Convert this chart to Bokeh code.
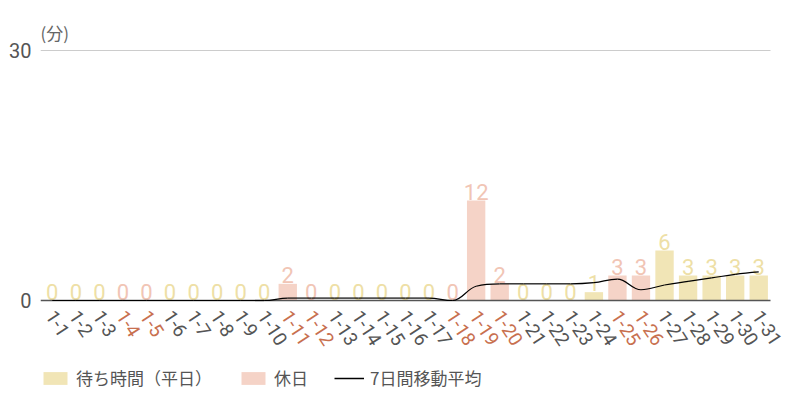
from bokeh.plotting import figure
from bokeh.models import (Range1d, FixedTicker, ColumnDataSource, Legend, LegendItem)
from bokeh.core.properties import value
from bokeh.embed import file_html
from bokeh.resources import INLINE

# ---- data ----
dates = ["1-1", "1-2", "1-3", "1-4", "1-5", "1-6", "1-7", "1-8", "1-9", "1-10",
         "1-11", "1-12", "1-13", "1-14", "1-15", "1-16", "1-17", "1-18", "1-19", "1-20",
         "1-21", "1-22", "1-23", "1-24", "1-25", "1-26", "1-27", "1-28", "1-29", "1-30", "1-31"]
wait_minutes = [0, 0, 0, 0, 0, 0, 0, 0, 0, 0,
                2, 0, 0, 0, 0, 0, 0, 0, 12, 2,
                0, 0, 0, 1, 3, 3, 6, 3, 3, 3, 3]
holidays = ["1-4", "1-5", "1-11", "1-12", "1-18", "1-19", "1-20", "1-25", "1-26"]
moving_avg = [0, 0, 0, 0, 0, 0, 0, 0, 0, 0,
              0.29, 0.29, 0.29, 0.29, 0.29, 0.29, 0.29, 0, 1.71, 2.0,
              2.0, 2.0, 2.0, 2.14, 2.57, 1.29, 1.86, 2.29, 2.71, 3.14, 3.43]
y_ticks = [0, 30]
y_max = 30
unit_label = "(分)"
legend_labels = ["待ち時間（平日）", "休日", "7日間移動平均"]

# ---- style ----
WEEKDAY_BAR = "#f1e5b6"
HOLIDAY_BAR = "#f5d3c7"
WEEKDAY_TXT = "#eedfa6"
HOLIDAY_TXT = "#f1c5b5"
TICK_GRAY = "#555555"
TICK_HOL = "#c8704f"
NARROW = value("Roboto")
THIN = value("Roboto")
CJK = value("Noto Sans CJK JP")

idx = list(range(len(dates)))
n = len(dates)
is_hol = [d in holidays for d in dates]

wk = ColumnDataSource(dict(x=[i for i in idx if not is_hol[i]],
                           y=[wait_minutes[i] for i in idx if not is_hol[i]],
                           t=[str(wait_minutes[i]) for i in idx if not is_hol[i]]))
hd = ColumnDataSource(dict(x=[i for i in idx if is_hol[i]],
                           y=[wait_minutes[i] for i in idx if is_hol[i]],
                           t=[str(wait_minutes[i]) for i in idx if is_hol[i]]))

PX_PER_UNIT = 250 / 30.0
PX_PER_CAT = 730 / 31.0
p = figure(width=800, height=400, output_backend="svg", toolbar_location=None,
           x_range=Range1d(-0.5, n - 0.5 + 30 / PX_PER_CAT),
           y_range=Range1d(0 - 100 / PX_PER_UNIT, 30 + 30 / PX_PER_UNIT),
           min_border_left=40, min_border_right=0, min_border_top=20, min_border_bottom=0)
p.outline_line_color = None
p.background_fill_color = "white"
p.xaxis.visible = False
p.xgrid.visible = False
p.ygrid.visible = False

ya = p.yaxis[0]
ya.ticker = FixedTicker(ticks=y_ticks)
ya.axis_line_color = None
ya.major_tick_line_color = None
ya.minor_tick_line_color = None
ya.major_tick_out = 0
ya.major_tick_in = 0
ya.major_label_standoff = 9
ya.major_label_text_font = "Roboto"
ya.major_label_text_font_size = "20px"
ya.major_label_text_color = TICK_GRAY

# grid line at top, spanning the category area only
p.segment(x0=[-0.5], y0=[y_max], x1=[n - 0.5], y1=[y_max], line_color="#cccccc", line_width=1)

# bars
r_wk = p.vbar(x="x", top="y", width=0.78, source=wk, fill_color=WEEKDAY_BAR, line_color=None)
r_hd = p.vbar(x="x", top="y", width=0.78, source=hd, fill_color=HOLIDAY_BAR, line_color=None)

# value labels
for src, col in ((wk, WEEKDAY_TXT), (hd, HOLIDAY_TXT)):
    p.text(x="x", y="y", text="t", source=src, text_align="center", text_baseline="bottom",
           y_offset=-1, text_font=NARROW, text_font_size="22px", text_color=col)

# smooth moving-average line (Highcharts-like spline via bezier segments)
lc = [(float(i), float(moving_avg[i])) for i in idx]
rc = [(float(i), float(moving_avg[i])) for i in idx]
sm = 1.5
for i in range(1, n - 1):
    px, py = i, moving_avg[i]
    lx_, ly_ = i - 1, moving_avg[i - 1]
    nx_, ny_ = i + 1, moving_avg[i + 1]
    lcx = (sm * px + lx_) / (sm + 1); lcy = (sm * py + ly_) / (sm + 1)
    rcx = (sm * px + nx_) / (sm + 1); rcy = (sm * py + ny_) / (sm + 1)
    corr = ((rcy - lcy) * (rcx - px)) / (rcx - lcx) + py - rcy
    lcy += corr; rcy += corr
    if lcy > ly_ and lcy > py:
        lcy = max(ly_, py); rcy = 2 * py - lcy
    elif lcy < ly_ and lcy < py:
        lcy = min(ly_, py); rcy = 2 * py - lcy
    if rcy > ny_ and rcy > py:
        rcy = max(ny_, py); lcy = 2 * py - rcy
    elif rcy < ny_ and rcy < py:
        rcy = min(ny_, py); lcy = 2 * py - rcy
    lc[i] = (lcx, lcy); rc[i] = (rcx, rcy)

bz = ColumnDataSource(dict(
    x0=[i for i in idx[:-1]], y0=[moving_avg[i] for i in idx[:-1]],
    x1=[i + 1 for i in idx[:-1]], y1=[moving_avg[i + 1] for i in idx[:-1]],
    cx0=[rc[i][0] for i in idx[:-1]], cy0=[rc[i][1] for i in idx[:-1]],
    cx1=[lc[i + 1][0] for i in idx[:-1]], cy1=[lc[i + 1][1] for i in idx[:-1]]))

# baseline (axis line at 0)
p.segment(x0=[-0.5], y0=[0], x1=[n - 0.5], y1=[0], line_color="#555555", line_width=1.3)

p.bezier(x0="x0", y0="y0", x1="x1", y1="y1", cx0="cx0", cy0="cy0", cx1="cx1", cy1="cy1",
         source=bz, line_color="black", line_width=1.2)
r_line = p.line(x=[0, 1], y=[float("nan"), float("nan")], line_color="black", line_width=1.5)

# rotated category labels
lab = ColumnDataSource(dict(x=idx, y=[0] * n, t=dates,
                            c=[TICK_HOL if h else TICK_GRAY for h in is_hol]))
p.text(x="x", y="y", text="t", source=lab, angle=-57, angle_units="deg",
       text_align="left", text_baseline="middle", x_offset=-2, y_offset=12,
       text_font=THIN, text_font_size="19px", text_color="c")

# unit label
p.text(x=[-0.5], y=[y_max], text=[unit_label], x_offset=0, y_offset=-6,
       text_align="left", text_baseline="bottom", text_font=CJK,
       text_font_size="17px", text_color="#666666")

legend = Legend(items=[LegendItem(label=legend_labels[0], renderers=[r_wk]),
                       LegendItem(label=legend_labels[1], renderers=[r_hd]),
                       LegendItem(label=legend_labels[2], renderers=[r_line])],
                orientation="horizontal", location=(0, 10),
                glyph_width=30, glyph_height=16, label_height=16, label_standoff=6,
                spacing=26, padding=0, margin=0, border_line_color=None,
                background_fill_alpha=0, label_text_font="Noto Sans CJK JP",
                label_text_font_size="17px", label_text_color="#555555")
p.add_layout(legend)

open("out.html", "w").write(file_html(p, INLINE))
